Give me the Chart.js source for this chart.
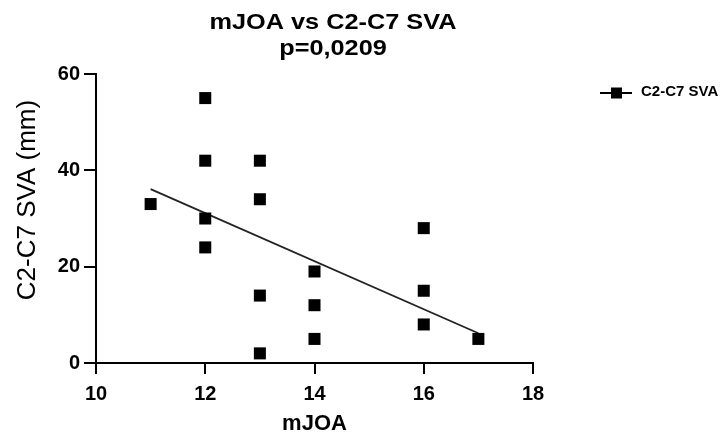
<!DOCTYPE html>
<html>
<head>
<meta charset="utf-8">
<script src="https://cdn.jsdelivr.net/npm/chart.js@4"></script>
<style>
  body { margin: 0; background: #fff; }
</style>
</head>
<body>
<canvas id="myChart" width="726" height="438"></canvas>
<script>
// data
const mjoa = [11, 12, 12, 12, 12, 13, 13, 13, 13, 14, 14, 14, 16, 16, 16, 17];
const sva = [33, 55, 42, 30, 24, 42, 34, 14, 2, 19, 12, 5, 28, 15, 8, 5];
const xTicks = [10, 12, 14, 16, 18];
const yTicks = [0, 20, 40, 60];
const titleLines = ['mJOA vs C2-C7 SVA', 'p=0,0209'];
const seriesName = 'C2-C7 SVA';
const yTitle = 'C2-C7 SVA (mm)';

// least squares fit through the points
const n = mjoa.length;
const mx = mjoa.reduce((a, b) => a + b, 0) / n;
const my = sva.reduce((a, b) => a + b, 0) / n;
let sxy = 0, sxx = 0;
for (let i = 0; i < n; i++) {
  sxy += (mjoa[i] - mx) * (sva[i] - my);
  sxx += (mjoa[i] - mx) * (mjoa[i] - mx);
}
const slope = sxy / sxx;
const icpt = my - slope * mx;
const xMin = Math.min(...mjoa), xMax = Math.max(...mjoa);
const fitLine = [xMin, xMax].map(x => ({ x: x, y: icpt + slope * x }));

const FONT = "'Liberation Sans', Arial, sans-serif";

// title, y axis title and legend drawn by hand (the source image is a bit stretched sideways)
const textPlugin = {
  id: 'extraText',
  afterDraw(chart) {
    const c = chart.ctx;
    c.save();
    c.fillStyle = '#000';
    c.font = 'bold 22px ' + FONT;
    c.textAlign = 'center';
    c.textBaseline = 'alphabetic';
    c.save();
    c.translate(333, 29);
    c.scale(1.15, 1);
    c.fillText(titleLines[0], 0, 0);
    c.fillText(titleLines[1], 0, 26);
    c.restore();

    // y title
    c.save();
    c.font = '26px ' + FONT;
    c.translate(35, 200);
    c.rotate(-Math.PI / 2);
    c.fillText(yTitle, 0, 0);
    c.restore();

    // legend
    const y = 93;
    c.strokeStyle = '#000';
    c.lineWidth = 2;
    c.beginPath();
    c.moveTo(600, y);
    c.lineTo(632, y);
    c.stroke();
    c.fillRect(611, y - 5.5, 11, 11);
    c.font = 'bold 15px ' + FONT;
    c.textAlign = 'left';
    c.textBaseline = 'middle';
    c.fillText(seriesName, 641, y - 1);
    c.restore();
  }
};

const ctx = document.getElementById('myChart');

new Chart(ctx, {
  data: {
    datasets: [
      {
        type: 'scatter',
        label: seriesName,
        data: mjoa.map((x, i) => ({ x: x, y: sva[i] })),
        pointStyle: 'rect',
        pointRadius: 8.5,
        pointHoverRadius: 8.5,
        backgroundColor: '#000',
        borderColor: '#000',
        borderWidth: 0
      },
      {
        type: 'line',
        label: 'fit',
        data: fitLine,
        borderColor: '#222',
        borderWidth: 1.8,
        pointRadius: 0,
        fill: false
      }
    ]
  },
  options: {
    responsive: false,
    animation: false,
    layout: { padding: { left: 0, right: 193, top: 74, bottom: 0 } },
    plugins: {
      legend: { display: false },
      title: { display: false },
      tooltip: { enabled: false }
    },
    scales: {
      x: {
        type: 'linear',
        min: 10,
        max: 18,
        afterBuildTicks: s => { s.ticks = xTicks.map(v => ({ value: v })); },
        afterFit: s => { s.height = 75; },
        border: { display: true, color: '#000', width: 2 },
        grid: { drawOnChartArea: false, drawTicks: true, tickLength: 11, color: '#000', lineWidth: 2 },
        ticks: { color: '#000', padding: 8, font: { family: FONT, size: 20, weight: 'bold' } },
        title: {
          display: true,
          text: 'mJOA',
          color: '#000',
          padding: { top: 0, bottom: 1 },
          font: { family: FONT, size: 22, weight: 'bold' }
        }
      },
      y: {
        type: 'linear',
        min: 0,
        max: 60,
        afterBuildTicks: s => { s.ticks = yTicks.map(v => ({ value: v })); },
        afterFit: s => { s.width = 96; },
        border: { display: true, color: '#000', width: 2 },
        grid: { drawOnChartArea: false, drawTicks: true, tickLength: 12, color: '#000', lineWidth: 2 },
        ticks: { color: '#000', padding: 4, font: { family: FONT, size: 20, weight: 'bold' } }
      }
    }
  },
  plugins: [textPlugin]
});
</script>
</body>
</html>
